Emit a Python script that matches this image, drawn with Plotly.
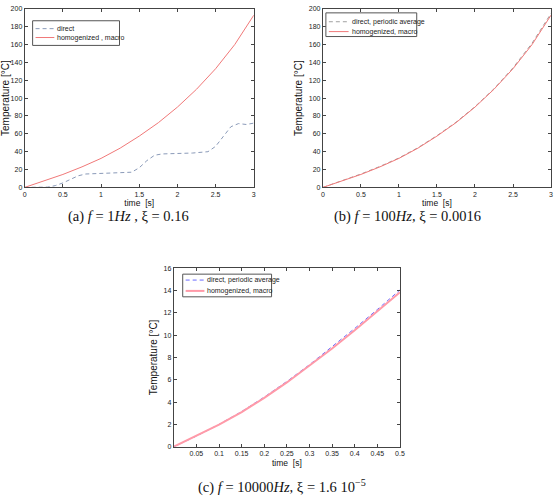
import plotly.graph_objects as go

# ---- data ----
t_a_direct = [0, 0.25, 0.3, 0.4, 0.5, 0.6, 0.7, 0.8, 1.0, 1.2, 1.4, 1.5, 1.6, 1.7, 1.8, 2.0, 2.2, 2.4, 2.5, 2.6, 2.7, 2.8, 2.9, 3.0]
T_a_direct = [0, 0, 0.3, 2, 5, 9, 13, 15, 15.5, 16, 17, 22, 30, 36, 37.5, 38, 38.5, 40, 46, 57, 68, 71.5, 70.5, 72]

t_macro = [0, 0.25, 0.5, 0.75, 1.0, 1.25, 1.5, 1.75, 2.0, 2.25, 2.5, 2.75, 3.0]
T_macro = [0, 7, 14.5, 23, 32.5, 44, 57.5, 72.5, 90, 110, 133, 160, 193]
T_b_direct = [0, 7.3, 15, 23.5, 33, 44.5, 58, 73, 90.5, 110.5, 134, 161.5, 195]

t_c = [0, 0.05, 0.1, 0.15, 0.2, 0.25, 0.3, 0.35, 0.4, 0.45, 0.5]
T_c_direct = [0, 0.95, 2.0, 3.15, 4.45, 5.85, 7.35, 8.95, 10.6, 12.3, 14.05]
T_c_macro = [0, 0.95, 1.97, 3.1, 4.38, 5.76, 7.24, 8.8, 10.43, 12.1, 13.85]

ticks_ab_x = [0, 0.5, 1, 1.5, 2, 2.5, 3]
ticks_ab_y = [0, 20, 40, 60, 80, 100, 120, 140, 160, 180, 200]
ticks_c_x = [0.05, 0.1, 0.15, 0.2, 0.25, 0.3, 0.35, 0.4, 0.45, 0.5]
ticks_c_y = [0, 2, 4, 6, 8, 10, 12, 14, 16]

names_a = ["direct", "homogenized , macro"]
names_bc = ["direct, periodic average", "homogenized, macro"]

W, H = 558, 498
def px(x): return x / W
def py(y): return 1 - y / H

RED = "#f07878"
DASH = "4px,3px"
styles = {
    "a": [dict(color="#8a9ab8", width=1, dash=DASH), dict(color=RED, width=1)],
    "b": [dict(color="#a0a0a0", width=1, dash=DASH), dict(color=RED, width=1)],
    "c": [dict(color="#6a6aff", width=1, dash=DASH), dict(color="#ff9aa8", width=2)],
}

fig = go.Figure()
fig.add_trace(go.Scatter(x=t_a_direct, y=T_a_direct, mode="lines", name=names_a[0],
                         line=styles["a"][0], xaxis="x", yaxis="y"))
fig.add_trace(go.Scatter(x=t_macro, y=T_macro, mode="lines", name=names_a[1],
                         line=styles["a"][1], xaxis="x", yaxis="y"))
fig.add_trace(go.Scatter(x=t_macro, y=T_b_direct, mode="lines", name=names_bc[0],
                         line=styles["b"][0], xaxis="x2", yaxis="y2"))
fig.add_trace(go.Scatter(x=t_macro, y=T_macro, mode="lines", name=names_bc[1],
                         line=styles["b"][1], xaxis="x2", yaxis="y2"))
fig.add_trace(go.Scatter(x=t_c, y=T_c_direct, mode="lines", name=names_bc[0],
                         line=styles["c"][0], xaxis="x3", yaxis="y3"))
fig.add_trace(go.Scatter(x=t_c, y=T_c_macro, mode="lines", name=names_bc[1],
                         line=styles["c"][1], xaxis="x3", yaxis="y3"))

tickfont = dict(family="Liberation Sans, Arial", size=7, color="#222")
def xax(dom, anchor, rng, tv, tt):
    return dict(domain=dom, anchor=anchor, range=rng, tickvals=tv, ticktext=tt,
                ticks="inside", ticklen=3, tickcolor="#444", mirror="ticks", showline=True,
                linecolor="#444", linewidth=1, showgrid=False, zeroline=False, tickfont=tickfont,
                title=dict(text="time  [s]", font=dict(family="Liberation Sans, Arial", size=8.5, color="#111"), standoff=3))
def yax(dom, anchor, rng, tv):
    return dict(domain=dom, anchor=anchor, range=rng, tickvals=tv,
                ticks="inside", ticklen=3, tickcolor="#444", mirror="ticks", showline=True,
                linecolor="#444", linewidth=1, showgrid=False, zeroline=False, tickfont=tickfont,
                title=dict(text="Temperature [°C]", font=dict(family="Liberation Sans, Arial", size=10, color="#111"), standoff=4))

fmt = lambda v: ("%g" % v)

fig.update_layout(
    width=W, height=H, margin=dict(l=0, r=0, t=0, b=0),
    paper_bgcolor="white", plot_bgcolor="white", showlegend=False,
    xaxis=xax([px(23), px(255)], "y", [0, 3], ticks_ab_x, [fmt(v) for v in ticks_ab_x]),
    yaxis=yax([py(186), py(5)], "x", [0, 200], ticks_ab_y),
    xaxis2=xax([px(325), px(556)], "y2", [0, 3], ticks_ab_x, [fmt(v) for v in ticks_ab_x]),
    yaxis2=yax([py(186), py(5)], "x2", [0, 200], ticks_ab_y),
    xaxis3=xax([px(174), px(403)], "y3", [0, 0.5], ticks_c_x, [fmt(v) for v in ticks_c_x]),
    yaxis3=yax([py(449), py(268)], "x3", [0, 16], ticks_c_y),
)

# ---- compact legend boxes (matlab style) ----
legfont = dict(family="Liberation Sans, Arial", size=7, color="#222")
legends = [
    (31, 119, 17, 42, (25, 34), 34, 53, names_a, "a"),
    (328, 420, 9, 33, (18, 28), 331, 351, names_bc, "b"),
    (183, 273, 274, 297, (280, 291), 186, 205, names_bc, "c"),
]
for x0, x1, y0, y1, rows, s0, s1, nm, key in legends:
    fig.add_shape(type="rect", xref="paper", yref="paper", x0=px(x0), x1=px(x1), y0=py(y1), y1=py(y0),
                  line=dict(color="#555", width=1), fillcolor="white", layer="above")
    for ry, name, st in zip(rows, nm, styles[key]):
        fig.add_shape(type="line", xref="paper", yref="paper", x0=px(s0), x1=px(s1), y0=py(ry), y1=py(ry),
                      line=dict(color=st["color"], width=st["width"], dash=st.get("dash", "solid")), layer="above")
        fig.add_annotation(x=px(s1 + 1), y=py(ry), xref="paper", yref="paper", text=name, showarrow=False,
                           font=legfont, xanchor="left", yanchor="middle")

capfont = dict(family="Liberation Serif, Times New Roman", size=14.5, color="#111")
caps = [
    (px(128), py(216), "(a) <i>f</i> = 1<i>Hz</i> , ξ = 0.16"),
    (px(411), py(216), "(b) <i>f</i> = 100<i>Hz</i>, ξ = 0.0016"),
    (px(284), py(489), "(c) <i>f</i> = 10000<i>Hz</i>, ξ = 1.6 10<sup>−5</sup>"),
]
for x, y, t in caps:
    fig.add_annotation(x=x, y=y, xref="paper", yref="paper", text=t, showarrow=False,
                       font=capfont, xanchor="center", yanchor="middle")

fig.write_html("out.html")
